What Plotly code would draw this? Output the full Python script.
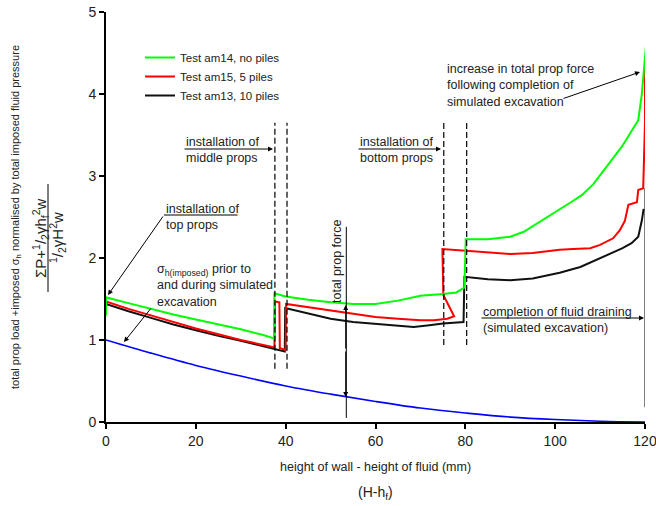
import plotly.graph_objects as go

# ---------------- data ----------------
# x = height of wall - height of fluid (mm); y = normalised prop load
am14_x = [0, 0, 5, 10, 15, 20, 25, 30, 35, 37.4, 37.5, 40, 45, 50, 55, 60, 65, 70, 75, 78,
          79.8, 80.1, 85, 90, 93, 96, 99, 101, 103.5, 106, 108.5, 111, 113, 115, 117,
          118.5, 119.3, 119.8, 120.1, 120.4]
am14_y = [1.30, 1.52, 1.45, 1.38, 1.31, 1.25, 1.19, 1.13, 1.06, 1.02, 1.57, 1.53, 1.49, 1.46,
          1.44, 1.44, 1.48, 1.54, 1.56, 1.58, 1.64, 2.23, 2.23, 2.26, 2.32, 2.42, 2.52, 2.59,
          2.68, 2.77, 2.90, 3.08, 3.22, 3.37, 3.55, 3.68, 4.00, 4.30, 4.50, 4.70]

am15_x = [0, 5, 10, 15, 20, 25, 30, 35, 37.5, 37.6, 38.6, 38.7, 40, 40.1, 45, 50, 55, 60, 65,
          70, 73, 76, 77.5, 75.1, 74.9, 80.4, 85, 90, 95, 101, 104, 107.8, 110, 112.9, 114.4,
          115.5, 116.3, 118.2, 118.5, 119.6, 120, 120]
am15_y = [1.47, 1.38, 1.30, 1.22, 1.14, 1.07, 1.00, 0.94, 0.91, 1.47, 1.46, 0.90, 0.88, 1.44,
          1.40, 1.36, 1.32, 1.28, 1.26, 1.24, 1.24, 1.26, 1.29, 1.55, 2.11, 2.09, 2.07, 2.05,
          2.06, 2.10, 2.11, 2.12, 2.16, 2.24, 2.34, 2.45, 2.65, 2.68, 2.83, 2.85, 3.65, 4.44]

am13_x = [0, 5, 10, 15, 20, 25, 30, 35, 39.8, 39.9, 45, 50, 55, 60, 65, 68.5, 72, 75, 79.6,
          79.8, 85, 90, 95, 101, 105.6, 110.7, 115, 117, 118.5, 119.3, 119.7]
am13_y = [1.44, 1.35, 1.27, 1.19, 1.12, 1.05, 0.99, 0.92, 0.86, 1.39, 1.32, 1.26, 1.22, 1.20,
          1.18, 1.16, 1.18, 1.20, 1.22, 1.77, 1.74, 1.73, 1.75, 1.82, 1.89, 2.01, 2.12, 2.18,
          2.26, 2.46, 2.60]

imposed_x = [0, 10, 20, 30, 40, 50, 60, 70, 80, 90, 100, 110, 120]
imposed_y = [1.00, 0.84, 0.69, 0.56, 0.44, 0.34, 0.25, 0.17, 0.11, 0.06, 0.03, 0.01, 0.00]

series_names = ["Test am14, no piles", "Test am15, 5 piles", "Test am13, 10 piles"]
x_ticks = [0, 20, 40, 60, 80, 100, 120]
y_ticks = [0, 1, 2, 3, 4, 5]

# prop installation stages (x positions) and completion line
middle_props_x = [37.6, 40.3]
bottom_props_x = [75.2, 80.3]
completion_x = 120

# ---------------- layout helpers ----------------
W, H = 656, 506
L, R, T, B = 106, 645, 12, 422
FONT = "Liberation Sans, Arial, sans-serif"


def dx(p):
    return (p - L) / (R - L) * 120


def dy(p):
    return (B - p) / (B - T) * 5


def px(p):
    return (p - L) / (R - L)


def py(p):
    return (B - p) / (B - T)


fig = go.Figure()
fig.add_trace(go.Scatter(x=imposed_x, y=imposed_y, mode="lines", showlegend=False,
                         line=dict(color="#0000ff", width=1.6, shape="spline")))
fig.add_trace(go.Scatter(x=am13_x, y=am13_y, mode="lines", name=series_names[2], legendrank=3,
                         line=dict(color="#111111", width=2)))
fig.add_trace(go.Scatter(x=am15_x, y=am15_y, mode="lines", name=series_names[1], legendrank=2,
                         line=dict(color="#ff0000", width=2)))
fig.add_trace(go.Scatter(x=am14_x, y=am14_y, mode="lines", name=series_names[0], legendrank=1,
                         line=dict(color="#00ff00", width=2)))

shapes = []
for xv in middle_props_x:
    shapes.append(dict(type="line", xref="x", yref="y", x0=xv, x1=xv, y0=0.65, y1=3.65,
                       line=dict(color="black", width=1.2, dash="6px,3px")))
for xv in bottom_props_x:
    shapes.append(dict(type="line", xref="x", yref="y", x0=xv, x1=xv, y0=0.94, y1=3.65,
                       line=dict(color="black", width=1.2, dash="6px,3px")))
# completion line at x = 120
shapes.append(dict(type="line", xref="x", yref="y", x0=completion_x, x1=completion_x,
                   y0=0.18, y1=2.85, line=dict(color="black", width=1)))
# total prop force dimension line
shapes.append(dict(type="line", xref="x", yref="y", x0=53.5, x1=53.5, y0=0.05, y1=2.38,
                   line=dict(color="black", width=1)))
# fraction bar of y title
shapes.append(dict(type="line", xref="paper", yref="paper", x0=px(48), x1=px(48),
                   y0=py(184), y1=py(292), line=dict(color="black", width=1)))

ann = []


def text(xp, yp, s, size=12.5, angle=0, xanchor="left", ref="data"):
    if ref == "data":
        ann.append(dict(x=dx(xp), y=dy(yp), xref="x", yref="y", text=s, showarrow=False,
                        xanchor=xanchor, yanchor="middle", align="left", textangle=angle,
                        font=dict(size=size, color="#222", family=FONT)))
    else:
        ann.append(dict(x=px(xp), y=py(yp), xref="paper", yref="paper", text=s, showarrow=False,
                        xanchor=xanchor, yanchor="middle", align="center", textangle=angle,
                        font=dict(size=size, color="#222", family=FONT)))


def arrow(x0, y0, x1, y1, head=2):
    # from pixel (x0,y0) to tip at pixel (x1,y1)
    ann.append(dict(x=dx(x1), y=dy(y1), ax=dx(x0), ay=dy(y0), xref="x", yref="y",
                    axref="x", ayref="y", text="", showarrow=True, arrowhead=head,
                    arrowsize=1, arrowwidth=1, arrowcolor="black", standoff=0, startstandoff=0))


text(184, 149.5, "installation of<br>middle props")
arrow(183, 149, 273, 149)
text(358, 149.5, "installation of<br>bottom props")
arrow(357, 149, 441, 149)
text(164, 216.5, "installation of<br>top props")
arrow(239, 215, 164, 215, head=0)
arrow(164, 215, 108, 295)
text(155, 285, "σ<sub>h(imposed)</sub> prior to<br>and during simulated<br>excavation")
arrow(152, 307, 124, 342)
text(337, 262, "total prop force", angle=-90, xanchor="center")
arrow(345.7, 350, 345.7, 305)
arrow(345.7, 350, 345.7, 397)
text(481, 320, "completion of fluid draining<br>(simulated excavation)")
arrow(480, 318, 644, 318)
text(445, 85, "increase in total prop force<br>following completion of<br>simulated excavation")
arrow(562, 99, 640, 72)

# axis titles
text(16, 217, "total prop load +imposed σ<sub>h</sub> normalised by total imposed fluid pressure",
     size=11, angle=-90, xanchor="center", ref="paper")
text(40, 238, "ΣP+<sup>1</sup>/<sub>2</sub>γh<sub>f</sub><sup>2</sup>w", size=15, angle=-90,
     xanchor="center", ref="paper")
text(57, 238, "<sup>1</sup>/<sub>2</sub>γH<sup>2</sup>w", size=15, angle=-90,
     xanchor="center", ref="paper")
text(375, 467, "height of wall - height of fluid (mm)", size=12.5, xanchor="center", ref="paper")
text(375, 493, "(H-h<sub>f</sub>)", size=14, xanchor="center", ref="paper")

fig.update_layout(
    width=W, height=H,
    margin=dict(l=L, r=W - R, t=T, b=H - B, pad=0, autoexpand=False),
    paper_bgcolor="white", plot_bgcolor="white",
    font=dict(family=FONT, color="#222"),
    shapes=shapes, annotations=ann,
    showlegend=True,
    legend=dict(x=px(140), y=py(43), xanchor="left", yanchor="top",
                bgcolor="rgba(0,0,0,0)", font=dict(size=11.5, family=FONT, color="#222"),
                tracegroupgap=0),
)
fig.update_xaxes(range=[0, 120], tickvals=x_ticks, showgrid=False, zeroline=False,
                 showline=True, linecolor="black", linewidth=2, ticks="outside", ticklen=5,
                 tickwidth=1.5, tickcolor="black", tickfont=dict(size=14, color="#222"),
                 ticklabeloverflow="allow", automargin=False)
fig.update_yaxes(range=[0, 5], tickvals=y_ticks, showgrid=False, zeroline=False,
                 showline=True, linecolor="black", linewidth=2, ticks="outside", ticklen=5,
                 tickwidth=1.5, tickcolor="black", tickfont=dict(size=14, color="#222"),
                 ticklabeloverflow="allow", automargin=False)

fig.write_html("out.html")
